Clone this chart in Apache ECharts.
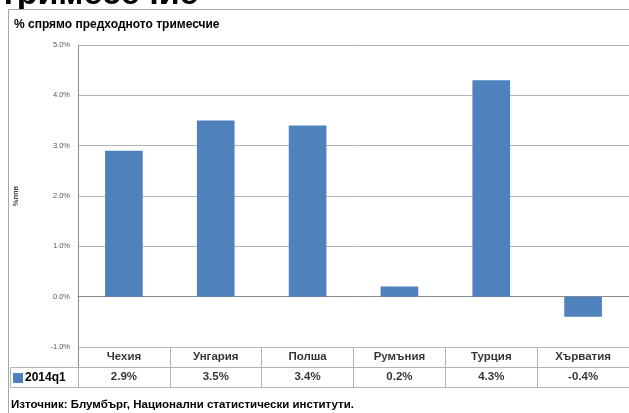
<!DOCTYPE html>
<html>
<head>
<meta charset="utf-8">
<script src="https://cdn.jsdelivr.net/npm/echarts@6/dist/echarts.min.js"></script>
<style>
  html, body { margin: 0; padding: 0; background: #fff; }
  #chart { width: 629px; height: 413px; }
</style>
</head>
<body>
<div id="chart"></div>
<script>
// Quarter-on-quarter GDP growth, 2014q1
const categories = ['Чехия', 'Унгария', 'Полша', 'Румъния', 'Турция', 'Хърватия'];
const seriesName = '2014q1';
const values = [2.9, 3.5, 3.4, 0.2, 4.3, -0.4];
const yTicks = { min: -1, max: 5, interval: 1 };

const FONT = 'Liberation Sans';
const GRID_LINE = '#B4B4B4';
const AXIS_LINE = '#8C8C8C';

const chart = echarts.init(document.getElementById('chart'), null, { renderer: 'canvas' });

chart.setOption({
  animation: false,
  backgroundColor: '#fff',
  textStyle: { fontFamily: FONT },
  grid: [
    { left: 78, top: 45, width: 563, height: 302 },
    { left: 78, top: 347, width: 563, height: 40 }
  ],
  legend: {
    data: [seriesName],
    left: 13, top: 372,
    icon: 'rect', itemWidth: 10, itemHeight: 10, itemGap: 0,
    textStyle: { fontFamily: FONT, fontWeight: 'bold', fontSize: 12, color: '#000', padding: [0, 0, 0, -3] },
    padding: 0,
    selectedMode: false
  },
  xAxis: [
    {
      type: 'category', gridIndex: 0, data: categories,
      axisLine: { onZero: true, lineStyle: { color: AXIS_LINE, width: 1 } },
      axisTick: { show: false }, axisLabel: { show: false }, splitLine: { show: false }
    },
    {
      type: 'category', gridIndex: 1, data: categories,
      axisLine: { show: true, lineStyle: { color: GRID_LINE } },
      axisTick: { show: false }, axisLabel: { show: false },
      splitLine: { show: true, interval: 0, lineStyle: { color: GRID_LINE } }
    }
  ],
  yAxis: [
    {
      type: 'value', gridIndex: 0,
      min: yTicks.min, max: yTicks.max, interval: yTicks.interval,
      name: '%ппв', nameLocation: 'middle', nameRotate: 90, nameGap: 58,
      nameTextStyle: { fontFamily: FONT, fontSize: 7.5, fontWeight: 'bold', color: '#404040' },
      axisLine: { show: true, lineStyle: { color: AXIS_LINE } },
      axisTick: { show: false },
      axisLabel: { formatter: v => v.toFixed(1) + '%', fontSize: 7.5, color: '#595959', margin: 8 },
      splitLine: { show: true, lineStyle: { color: GRID_LINE } }
    },
    {
      type: 'category', gridIndex: 1, data: ['vals', 'names'],
      axisLine: { show: true, lineStyle: { color: AXIS_LINE } },
      axisTick: { show: false }, axisLabel: { show: false },
      splitLine: { show: true, interval: 0, lineStyle: { color: GRID_LINE } }
    }
  ],
  graphic: [
    {
      type: 'text', z: -2, left: 0, top: -22,
      style: { text: 'тримесечие', font: 'bold 34px ' + FONT, fill: '#000' }
    },
    {
      type: 'rect', z: -1, shape: { x: 8.5, y: 9.5, width: 640, height: 420 },
      style: { fill: '#fff', stroke: '#A6A6A6', lineWidth: 1 }
    },
    {
      type: 'text', z: 5, left: 14, top: 19,
      style: { text: '% спрямо предходното тримесчие', font: 'bold 12px ' + FONT, fill: '#000' }
    },
    {
      type: 'rect', z: 5, shape: { x: 10.5, y: 367.5, width: 68, height: 20 },
      style: { fill: 'none', stroke: GRID_LINE, lineWidth: 1 }
    },
    {
      type: 'text', z: 5, left: 11, top: 399,
      style: { text: 'Източник: Блумбърг, Национални статистически институти.', font: 'bold 11.5px ' + FONT, fill: '#000' }
    }
  ],
  series: [
    {
      name: seriesName, type: 'bar', xAxisIndex: 0, yAxisIndex: 0,
      data: values, barWidth: '41%',
      itemStyle: { color: '#4F81BD' }
    },
    {
      name: 'names', type: 'scatter', xAxisIndex: 1, yAxisIndex: 1,
      symbolSize: 1, itemStyle: { color: 'rgba(0,0,0,0)' }, silent: true,
      data: categories.map(c => [c, 'names']),
      label: { show: true, position: 'inside', formatter: p => p.data[0],
               fontFamily: FONT, fontWeight: 'bold', fontSize: 11.5, color: '#000' }
    },
    {
      name: 'vals', type: 'scatter', xAxisIndex: 1, yAxisIndex: 1,
      symbolSize: 1, itemStyle: { color: 'rgba(0,0,0,0)' }, silent: true,
      data: values.map((v, i) => [categories[i], 'vals', v]),
      label: { show: true, position: 'inside', formatter: p => p.data[2].toFixed(1) + '%',
               fontFamily: FONT, fontWeight: 'bold', fontSize: 11.5, color: '#000' }
    }
  ]
});
</script>
</body>
</html>
